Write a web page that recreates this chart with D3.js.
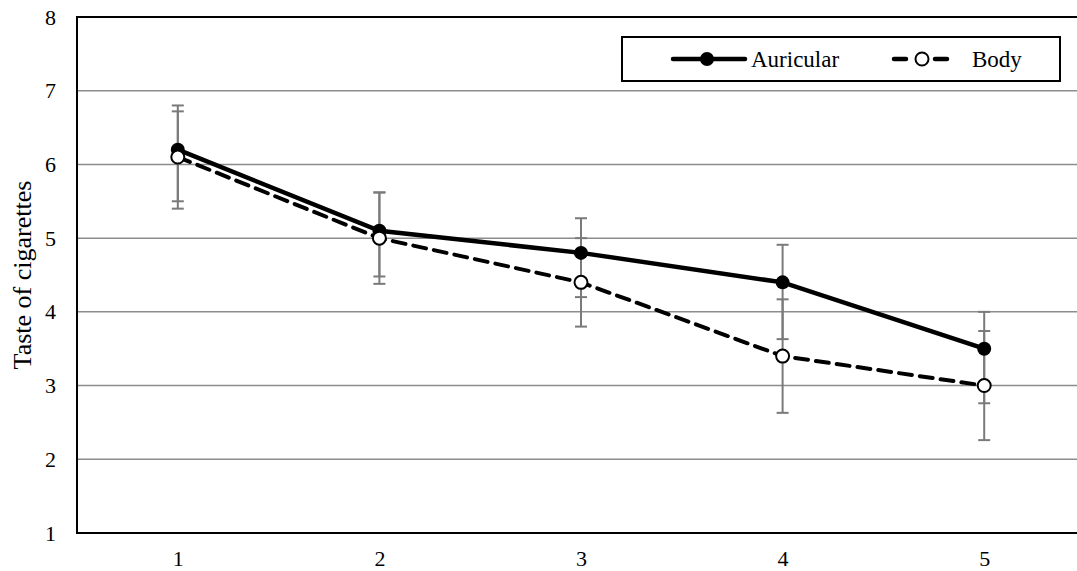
<!DOCTYPE html>
<html>
<head>
<meta charset="utf-8">
<script src="https://cdn.jsdelivr.net/npm/d3@7/dist/d3.min.js"></script>
<style>
  html, body { margin: 0; padding: 0; background: #fff; }
  svg { display: block; }
  text { font-family: "Liberation Serif", "Times New Roman", serif; fill: #000; }
</style>
</head>
<body>
<svg id="chart" width="1077" height="571"></svg>
<script>
// Sessions and mean taste ratings with error bar end values
const sessions = [1, 2, 3, 4, 5];
const auricularMean  = [6.2, 5.1, 4.8, 4.4, 3.5];
const auricularUpper = [6.72, 5.62, 5.27, 4.91, 4.0];
const auricularLower = [5.5, 4.48, 4.2, 3.63, 2.76];
const bodyMean  = [6.1, 5.0, 4.4, 3.4, 3.0];
const bodyUpper = [6.8, 5.62, 5.0, 4.17, 3.74];
const bodyLower = [5.4, 4.38, 3.8, 2.63, 2.26];
const yTicks = [1, 2, 3, 4, 5, 6, 7, 8];
const seriesNames = ["Auricular", "Body"];

const svg = d3.select("#chart");
const plot = { left: 77, top: 17, right: 1085, bottom: 533 };
const serif = "'Liberation Serif', 'Times New Roman', serif";

const x = d3.scalePoint()
  .domain(sessions)
  .range([plot.left, plot.right])
  .padding(0.5);

const y = d3.scaleLinear()
  .domain([1, 8])
  .range([plot.bottom, plot.top]);

// Horizontal gridlines
svg.append("g")
  .selectAll("line")
  .data(yTicks.filter(t => t > 1 && t < 8))
  .join("line")
  .attr("x1", plot.left).attr("x2", plot.right)
  .attr("y1", d => y(d)).attr("y2", d => y(d))
  .attr("stroke", "#8c8c8c").attr("stroke-width", 1.5);

// Y axis tick labels
const yAxis = svg.append("g")
  .attr("transform", `translate(${plot.left},0)`)
  .call(d3.axisLeft(y).tickValues(yTicks).tickSize(0).tickPadding(21).tickFormat(d3.format("d")));
yAxis.select(".domain").remove();
yAxis.attr("font-family", null).attr("font-size", null);
yAxis.selectAll("text")
  .style("font-family", serif)
  .style("font-size", "22px")
  .attr("fill", "#000");

// X axis tick labels
const xAxis = svg.append("g")
  .attr("transform", `translate(0,${plot.bottom})`)
  .call(d3.axisBottom(x).tickSize(0).tickPadding(17));
xAxis.select(".domain").remove();
xAxis.attr("font-family", null).attr("font-size", null);
xAxis.selectAll("text")
  .style("font-family", serif)
  .style("font-size", "22px")
  .attr("fill", "#000");

// Y axis title
svg.append("text")
  .attr("transform", `translate(31,${(plot.top + plot.bottom) / 2}) rotate(-90)`)
  .attr("text-anchor", "middle")
  .style("font-family", serif)
  .style("font-size", "26px")
  .text("Taste of cigarettes");

// Plot frame
svg.append("rect")
  .attr("x", plot.left).attr("y", plot.top)
  .attr("width", plot.right - plot.left).attr("height", plot.bottom - plot.top)
  .attr("fill", "none").attr("stroke", "#000").attr("stroke-width", 2);

// Error bars
function errorBars(lower, upper) {
  const g = svg.append("g").attr("stroke", "#7a7a7a").attr("stroke-width", 2);
  const cap = 6;
  sessions.forEach((s, i) => {
    const cx = x(s);
    g.append("line").attr("x1", cx).attr("x2", cx)
      .attr("y1", y(lower[i])).attr("y2", y(upper[i]));
    [lower[i], upper[i]].forEach(v => {
      g.append("line").attr("x1", cx - cap).attr("x2", cx + cap)
        .attr("y1", y(v)).attr("y2", y(v));
    });
  });
}
errorBars(bodyLower, bodyUpper);
errorBars(auricularLower, auricularUpper);

const line = d3.line().x((d, i) => x(sessions[i])).y(d => y(d));

// Body series (dashed, open markers)
svg.append("path")
  .datum(bodyMean)
  .attr("d", line)
  .attr("fill", "none").attr("stroke", "#000").attr("stroke-width", 4)
  .attr("stroke-dasharray", "13,8").attr("stroke-linecap", "round");

// Auricular series (solid, filled markers)
svg.append("path")
  .datum(auricularMean)
  .attr("d", line)
  .attr("fill", "none").attr("stroke", "#000").attr("stroke-width", 4.5);

svg.append("g").selectAll("circle")
  .data(auricularMean)
  .join("circle")
  .attr("cx", (d, i) => x(sessions[i])).attr("cy", d => y(d))
  .attr("r", 7).attr("fill", "#000");

svg.append("g").selectAll("circle")
  .data(bodyMean)
  .join("circle")
  .attr("cx", (d, i) => x(sessions[i])).attr("cy", d => y(d))
  .attr("r", 6.5).attr("fill", "#fff").attr("stroke", "#000").attr("stroke-width", 2);

// Legend
const legend = svg.append("g");
legend.append("rect")
  .attr("x", 622).attr("y", 37).attr("width", 438).attr("height", 44)
  .attr("fill", "#fff").attr("stroke", "#000").attr("stroke-width", 2);

const ly = 59;
// Auricular entry
legend.append("line")
  .attr("x1", 673).attr("x2", 745).attr("y1", ly).attr("y2", ly)
  .attr("stroke", "#000").attr("stroke-width", 4.5).attr("stroke-linecap", "round");
legend.append("circle").attr("cx", 707).attr("cy", ly).attr("r", 7).attr("fill", "#000");
legend.append("text").attr("x", 751).attr("y", ly + 8)
  .style("font-family", serif)
  .style("font-size", "23px").text(seriesNames[0]);

// Body entry
legend.append("line")
  .attr("x1", 894).attr("x2", 947).attr("y1", ly).attr("y2", ly)
  .attr("stroke", "#000").attr("stroke-width", 4.5).attr("stroke-linecap", "round")
  .attr("stroke-dasharray", "12,29");
legend.append("circle").attr("cx", 922).attr("cy", ly).attr("r", 6.5)
  .attr("fill", "#fff").attr("stroke", "#000").attr("stroke-width", 2);
legend.append("text").attr("x", 972).attr("y", ly + 8)
  .style("font-family", serif)
  .style("font-size", "23px").text(seriesNames[1]);
</script>
</body>
</html>
